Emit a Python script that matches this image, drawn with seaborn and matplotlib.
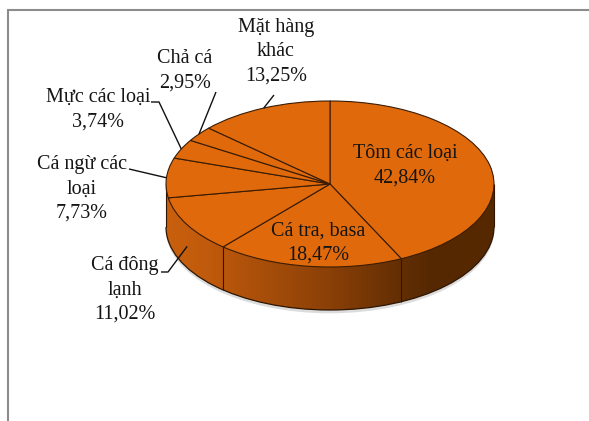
import numpy as np
import matplotlib
matplotlib.use("Agg")
import matplotlib.pyplot as plt
import seaborn as sns
from matplotlib.patches import Circle, Rectangle, Arc
from matplotlib.colors import LinearSegmentedColormap

# data (clockwise from 12 o'clock)
labels = ["Tôm các loại", "Cá tra, basa", "Cá đông\nlạnh", "Cá ngừ các\nloại",
          "Mực các loại", "Chả cá", "Mặt hàng\nkhác"]
shares = [42.84, 18.47, 11.02, 7.73, 3.74, 2.95, 13.25]

# layout in picture pixels
label_pos = [(405, 166), (318, 243), (125, 290), (82, 189), (98, 110), (185, 71), (276, 52)]
leader_start = [None, None, (161, 272), (129, 169), (151, 102), (216, 92), (274, 95)]
leader_corner = [None, None, (168, 272), None, (159, 102), None, None]

W, H = 589, 421
CX, CY, RX, RY = 330, 184, 164, 83   # top ellipse centre and radii in pixels
depth = 43 / RY


def px(x, y):
    return ((x - CX) / RX, (CY - y) / RY)


sns.set_theme(style="white")
plt.rcParams["font.family"] = ["Liberation Serif", "DejaVu Serif"]

fig = plt.figure(figsize=(W / 100, H / 100), dpi=100)
ax = fig.add_axes([0, 0, 1, 1])

top = "#DF690B"
wedges, _ = ax.pie(shares, startangle=90, counterclock=False, colors=[top] * len(shares),
                   wedgeprops=dict(edgecolor="#3a1c04", linewidth=0.8))
for w in wedges:
    w.set_zorder(4)
ax.set_aspect("auto")

# soft shadow
ax.add_patch(Circle((0, -depth - 0.04), 1.0, facecolor="#dcdcdc", edgecolor="none", zorder=0))

# side of the cake: horizontal gradient clipped to the front band
side_cmap = LinearSegmentedColormap.from_list(
    "side", [(0.0, "#C8600E"), (0.13, "#C05A0C"), (0.25, "#AE510A"), (0.5, "#8A4007"),
             (0.72, "#622E04"), (0.8, "#572902"), (1.0, "#552800")])
grad = np.linspace(0, 1, 256).reshape(1, -1)
clips = [Circle((0, -depth), 1.0, transform=ax.transData),
         Rectangle((-1, -depth), 2, depth, transform=ax.transData)]
for clip in clips:
    im = ax.imshow(grad, extent=(-1, 1, -depth - 1, 0), aspect="auto", cmap=side_cmap,
                   zorder=1, interpolation="bilinear")
    im.set_clip_path(clip)

edge = "#2e1603"
ax.add_patch(Arc((0, -depth), 2, 2, theta1=180, theta2=360, color=edge, lw=0.9, zorder=2))
ax.vlines([-1, 1], -depth, 0, color=edge, lw=0.8, zorder=2)
bounds = set()
for w in wedges:
    for t in (w.theta1, w.theta2):
        bounds.add(round(t % 360, 6))
for t in bounds:
    r = np.deg2rad(t)
    if np.sin(r) < -0.02 and abs(np.cos(r)) < 0.97:
        ax.vlines(np.cos(r), np.sin(r) - depth, np.sin(r), color=edge, lw=0.8, zorder=2)

# labels and leader lines
for i, w in enumerate(wedges):
    pct = f"{shares[i]:.2f}".replace(".", ",") + "%"
    tx, ty = px(*label_pos[i])
    ax.text(tx, ty, f"{labels[i]}\n{pct}", ha="center", va="center", fontsize=14.5,
            linespacing=1.38, color="#151515", zorder=6)
    if leader_start[i] is not None:
        m = np.deg2rad((w.theta1 + w.theta2) / 2)
        x, y = np.cos(m), np.sin(m)
        if y < 0:
            y -= depth / 2
        pts = [px(*leader_start[i])]
        if leader_corner[i] is not None:
            pts.append(px(*leader_corner[i]))
        pts.append((x, y))
        xs, ys = zip(*pts)
        ax.plot(xs, ys, color="#111111", lw=1.0, zorder=5, solid_capstyle="butt")

ax.set_xlim(-CX / RX, (W - CX) / RX)
ax.set_ylim((CY - H) / RY, CY / RY)
ax.axis("off")

# chart area border (cut off at right and bottom)
fig.add_artist(Rectangle((7.5 / W, -0.5), 2, 1.5 - 9.5 / H, transform=fig.transFigure,
                         fill=False, edgecolor="#8c8c8c", lw=1.5))

fig.savefig("out.png", dpi=100)
